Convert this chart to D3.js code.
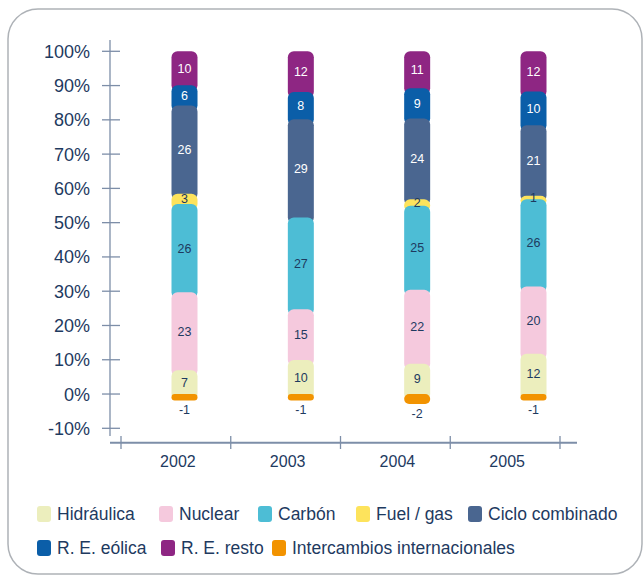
<!DOCTYPE html>
<html><head><meta charset="utf-8">
<script src="https://cdn.jsdelivr.net/npm/d3@7"></script>
<style>
html,body{margin:0;padding:0;background:#fff;}
svg{display:block;font-family:"Liberation Sans",Arial,sans-serif;}
</style></head>
<body>
<svg id="chart" width="643" height="575"></svg>
<script>
// ---- data ----
const years = ["2002", "2003", "2004", "2005"];
const seriesNames = ["Hidráulica", "Nuclear", "Carbón", "Fuel / gas", "Ciclo combinado", "R. E. eólica", "R. E. resto", "Intercambios internacionales"];
const hidraulica = [7, 10, 9, 12];
const nuclear = [23, 15, 22, 20];
const carbon = [26, 27, 25, 26];
const fuelGas = [3, 0, 2, 1];
const cicloCombinado = [26, 29, 24, 21];
const eolica = [6, 8, 9, 10];
const resto = [10, 12, 11, 12];
const intercambios = [-1, -1, -2, -1];
const yTicks = [-10, 0, 10, 20, 30, 40, 50, 60, 70, 80, 90, 100];

// ---- styles ----
const colors = ["#eceebd", "#f5c9dd", "#4dbdd5", "#fde35c", "#4a6690", "#0b5ea8", "#8e2683", "#f29300"];
const labelColors = ["#1e3a5f", "#1e3a5f", "#1e3a5f", "#1e3a5f", "#ffffff", "#ffffff", "#ffffff", "#1e3a5f"];
const ink = "#1e3a5f";
const axisColor = "#7d8ea8";

const positive = [hidraulica, nuclear, carbon, fuelGas, cicloCombinado, eolica, resto];

const svg = d3.select("#chart");

// frame
svg.append("rect").attr("x", 8).attr("y", 9).attr("width", 634).attr("height", 565)
  .attr("rx", 30).attr("ry", 30).attr("fill", "none").attr("stroke", "#aeb2b7").attr("stroke-width", 1.5);

const y = d3.scaleLinear().domain([-10, 100]).range([428.3, 51.3]);
const xAxisBand = d3.scaleBand().domain(years).range([121, 560]).padding(0);
const xBar = d3.scalePoint().domain(years).range([184.5, 533.5]);
const barW = 26, r = 6;

// y axis
const yAxisG = svg.append("g");
yAxisG.append("line").attr("x1", 110).attr("x2", 110).attr("y1", 40).attr("y2", 436)
  .attr("stroke", axisColor).attr("stroke-width", 1.3);
yAxisG.selectAll("line.tick").data(yTicks).enter().append("line").attr("class", "tick")
  .attr("x1", 102).attr("x2", 120).attr("y1", d => y(d)).attr("y2", d => y(d))
  .attr("stroke", axisColor).attr("stroke-width", 1.3);
yAxisG.selectAll("text").data(yTicks).enter().append("text")
  .attr("x", 90).attr("y", d => y(d)).attr("dy", "0.36em").attr("text-anchor", "end")
  .attr("font-size", 18).attr("fill", ink).text(d => d + "%");

// x axis
const xAxisG = svg.append("g");
xAxisG.append("line").attr("x1", 110).attr("x2", 577).attr("y1", 442.7).attr("y2", 442.7)
  .attr("stroke", axisColor).attr("stroke-width", 2);
const bounds = years.map(d => xAxisBand(d)).concat([xAxisBand.range()[1]]);
xAxisG.selectAll("line.tick").data(bounds).enter().append("line").attr("class", "tick")
  .attr("x1", d => d).attr("x2", d => d).attr("y1", 436).attr("y2", 449)
  .attr("stroke", axisColor).attr("stroke-width", 1.3);
xAxisG.selectAll("text").data(years).enter().append("text")
  .attr("x", d => xAxisBand(d) + xAxisBand.bandwidth() / 2 + 2).attr("y", 467)
  .attr("text-anchor", "middle").attr("font-size", 16).attr("fill", ink).text(d => d);

// bars
const barsG = svg.append("g");
const labelsG = svg.append("g");
years.forEach((yr, i) => {
  const total = d3.sum(positive, s => s[i]);
  let cum = 0;
  const segs = positive.map((s, k) => {
    const v0 = cum / total * 100;
    cum += s[i];
    const v1 = cum / total * 100;
    return { k, v: s[i], v0, v1 };
  });
  const cx = xBar(yr);
  // draw from top to bottom so lower segments overlap
  segs.slice().reverse().forEach(sg => {
    if (sg.v <= 0) return;
    const top = y(sg.v1), bot = y(sg.v0);
    barsG.append("rect").attr("x", cx - barW / 2).attr("width", barW)
      .attr("y", top).attr("height", bot - top + r).attr("rx", r).attr("ry", r)
      .attr("fill", colors[sg.k]);
  });
  segs.forEach(sg => {
    if (sg.v <= 0) return;
    labelsG.append("text").attr("x", cx).attr("y", (y(sg.v0) + y(sg.v1)) / 2).attr("dy", "0.36em")
      .attr("text-anchor", "middle").attr("font-size", 12.5).attr("fill", labelColors[sg.k]).text(sg.v);
  });
  // negative: intercambios
  const nv = intercambios[i];
  const nTop = y(0), nBot = y(nv) + 3;
  const h = nBot - nTop;
  barsG.append("rect").attr("x", cx - barW / 2).attr("width", barW)
    .attr("y", nTop).attr("height", h).attr("rx", Math.min(r, h / 2)).attr("ry", Math.min(r, h / 2))
    .attr("fill", colors[7]);
  labelsG.append("text").attr("x", cx).attr("y", y(nv) + 17)
    .attr("text-anchor", "middle").attr("font-size", 12.5).attr("fill", ink).text(nv);
});

// legend
const legendPos = [[37, 514], [159, 514], [258, 514], [356, 514], [468, 514], [37, 548], [161, 548], [272, 548]];
const lg = svg.append("g");
seriesNames.forEach((name, k) => {
  const [lx, ly] = legendPos[k];
  lg.append("rect").attr("x", lx).attr("y", ly - 8).attr("width", 14).attr("height", 16)
    .attr("rx", 3).attr("ry", 3).attr("fill", colors[k]);
  lg.append("text").attr("x", lx + 20).attr("y", ly).attr("dy", "0.36em")
    .attr("font-size", 17.5).attr("fill", ink).text(name);
});
</script>
</body></html>
